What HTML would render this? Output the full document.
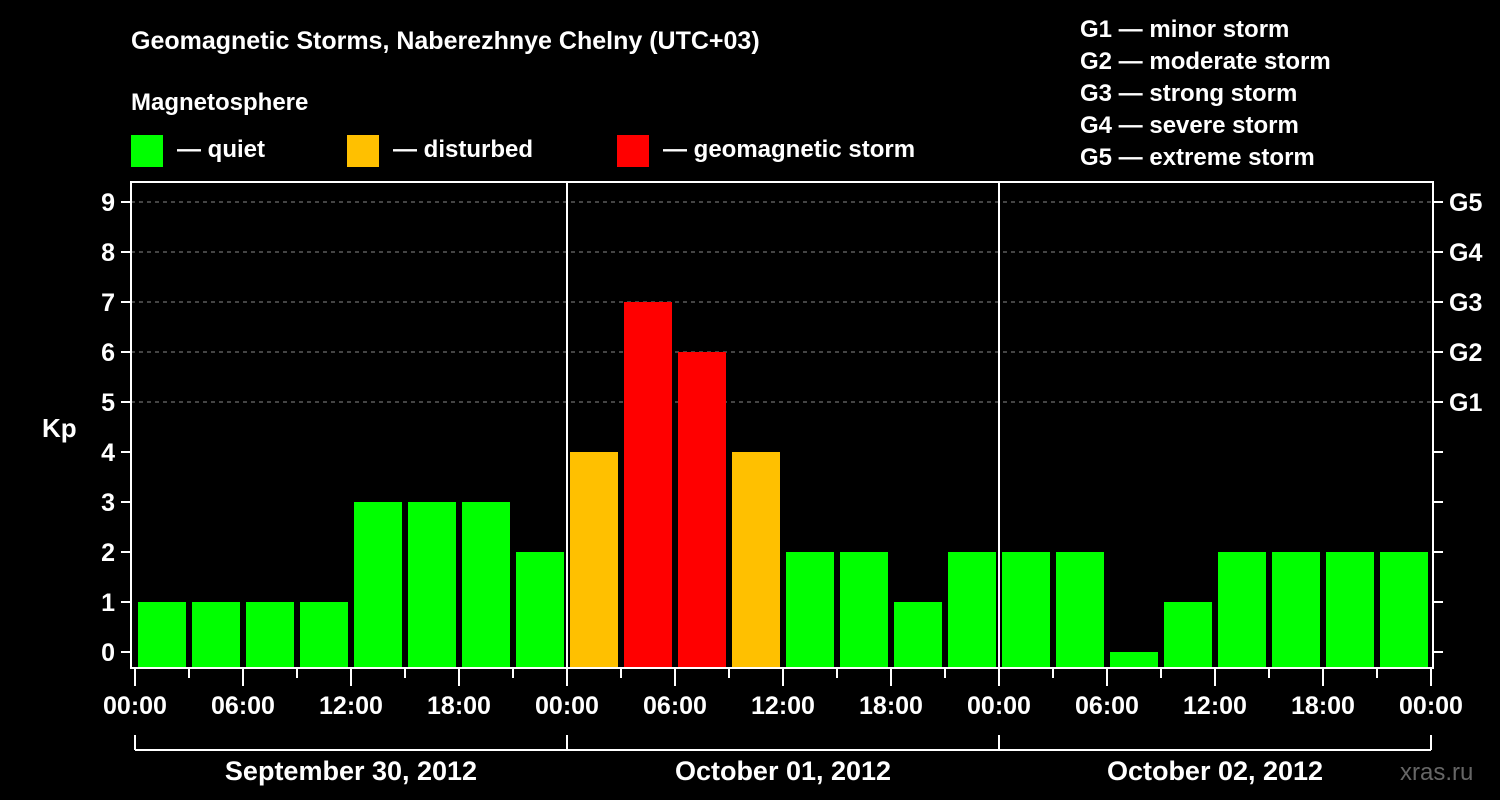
<!DOCTYPE html>
<html><head><meta charset="utf-8"><style>
body{margin:0;background:#000;}
svg{display:block;font-family:"Liberation Sans",sans-serif;font-weight:bold;}
</style></head><body>
<svg id="c" width="1500" height="800" viewBox="0 0 1500 800">
<rect width="1500" height="800" fill="#000"/>
<text x="131" y="49" fill="#fff" font-size="25">Geomagnetic Storms, Naberezhnye Chelny (UTC+03)</text>
<text x="131" y="110" fill="#fff" font-size="24">Magnetosphere</text>
<g><rect x="131" y="135" width="32" height="32" fill="#00ff00"/><text x="177" y="157" fill="#fff" font-size="24">— quiet</text></g>
<g><rect x="347" y="135" width="32" height="32" fill="#ffc000"/><text x="393" y="157" fill="#fff" font-size="24">— disturbed</text></g>
<g><rect x="617" y="135" width="32" height="32" fill="#ff0000"/><text x="663" y="157" fill="#fff" font-size="24">— geomagnetic storm</text></g>
<g fill="#fff" font-size="24">
<text x="1080" y="37">G1 — minor storm</text>
<text x="1080" y="69">G2 — moderate storm</text>
<text x="1080" y="101">G3 — strong storm</text>
<text x="1080" y="133">G4 — severe storm</text>
<text x="1080" y="165">G5 — extreme storm</text>
</g>
<text x="42" y="437" fill="#fff" font-size="26">Kp</text>
<text x="1400" y="780" fill="#666" font-size="24" font-weight="normal">xras.ru</text>
<g id="plot"></g>
</svg>
<script>
const kpValues = [1,1,1,1,3,3,3,2, 4,7,6,4,2,2,1,2, 2,2,0,1,2,2,2,2];
const hourLabels = ["00:00","06:00","12:00","18:00","00:00","06:00","12:00","18:00","00:00","06:00","12:00","18:00","00:00"];
const dayLabels = ["September 30, 2012","October 01, 2012","October 02, 2012"];
const yTicks = [0,1,2,3,4,5,6,7,8,9];
const gLabels = ["G1","G2","G3","G4","G5"];

const NS="http://www.w3.org/2000/svg";
const plot=document.getElementById('plot');
const X0=135, SLOT=54, L=131, R=1433, T=182, B=668;
const x=i=>X0+i*SLOT;
const y=v=>652-v*50;
function mk(tag,attrs,parent){const e=document.createElementNS(NS,tag);for(const k in attrs)e.setAttribute(k,attrs[k]);(parent||plot).appendChild(e);return e;}
// grid
yTicks.forEach(v=>{
  if(v>=5){const g=mk('line',{x1:L,x2:R,y1:y(v),y2:y(v),stroke:'#888','stroke-dasharray':'4 4','stroke-width':1});
  
  }
  const t=mk('line',{x1:L-10,x2:L,y1:y(v),y2:y(v),stroke:'#fff','stroke-width':2});
  
  
  const t2=mk('line',{x1:R,x2:R+10,y1:y(v),y2:y(v),stroke:'#fff','stroke-width':2});
  
  
  const lb=mk('text',{x:L-16,y:y(v)+9,fill:'#fff','font-size':25,'text-anchor':'end'});
  lb.textContent=v;
  
  
});
gLabels.forEach((g,i)=>{
  const lb=mk('text',{x:R+16,y:y(5+i)+9,fill:'#fff','font-size':25});
  lb.textContent=g;
  
  
});
// bars
kpValues.forEach((v,i)=>{
  const col=v>=5?'#ff0000':(v>=4?'#ffc000':'#00ff00');
  const top=y(v);
  const r=mk('rect',{x:x(i)+3,y:top,width:48,height:Math.max(0,B-1-top),fill:col});
  
  
});
// day separators
for(let d=1;d<3;d++){const l=mk('line',{x1:x(d*8),x2:x(d*8),y1:T,y2:B,stroke:'#fff','stroke-width':2});
  
  }
// frame
const f=mk('rect',{x:L,y:T,width:R-L,height:B-T,fill:'none',stroke:'#fff','stroke-width':2});


// x ticks
for(let i=0;i<=24;i++){
  const major=i%2===0;
  const t=mk('line',{x1:x(i),x2:x(i),y1:B,y2:major?686:678,stroke:'#fff','stroke-width':2});
  
  
}
hourLabels.forEach((h,i)=>{
  const lb=mk('text',{x:x(i*2),y:714,fill:'#fff','font-size':25,'text-anchor':'middle'});
  lb.textContent=h;
  
  
});
// day bracket
const br=mk('line',{x1:x(0),x2:x(24),y1:750,y2:750,stroke:'#fff','stroke-width':2});


for(let d=0;d<=3;d++){const t=mk('line',{x1:x(d*8),x2:x(d*8),y1:735,y2:750,stroke:'#fff','stroke-width':2});
  
  }
dayLabels.forEach((dl,d)=>{
  const lb=mk('text',{x:x(d*8+4),y:780,fill:'#fff','font-size':27,'text-anchor':'middle'});
  lb.textContent=dl;
  
  
});
</script>
</body></html>
